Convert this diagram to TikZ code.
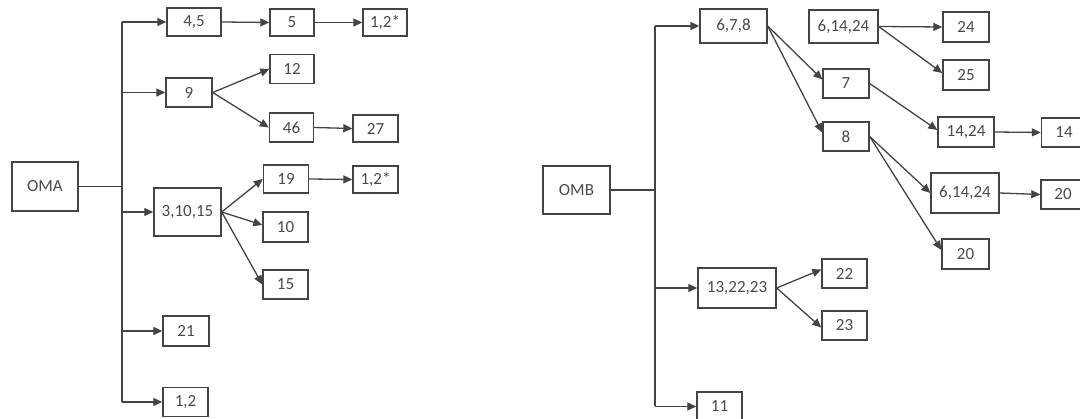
\documentclass[tikz,border=0pt]{standalone}
\usepackage{fontspec}
\setmainfont{Carlito}
\usetikzlibrary{arrows.meta,calc}
\definecolor{inkline}{HTML}{444444}
\definecolor{inktext}{HTML}{4A4A4A}
\tikzset{
  box/.style={draw=inkline, line width=1.4pt, fill=white, inner sep=0pt,
    font=\fontsize{17}{18}\selectfont, text=inktext},
  link/.style={draw=inkline, line width=1.3pt},
  arr/.style={link, -{Triangle[length=9pt,width=8pt]}}
}
\begin{document}
\begin{tikzpicture}[x=1pt,y=-1pt]
\path[use as bounding box, fill=white] (0,0) rectangle (1080,419);

% ---------- OMA tree ----------
\node[box, minimum width=66pt, minimum height=49pt] (oma) at (45,186.5) {OMA};
\node[box, minimum width=54pt, minimum height=28pt] (a45) at (194,22) {4,5};
\node[box, minimum width=44pt, minimum height=27pt] (a5) at (292,22.5) {5};
\node[box, minimum width=44pt, minimum height=27pt] (a12sA) at (385,22.5) {1,2*};
\node[box, minimum width=46pt, minimum height=29pt] (a9) at (189,92.5) {9};
\node[box, minimum width=44pt, minimum height=29pt] (a12) at (292,69) {12};
\node[box, minimum width=44pt, minimum height=29pt] (a46) at (291.5,127.5) {46};
\node[box, minimum width=45pt, minimum height=27pt] (a27) at (375.5,128.5) {27};
\node[box, minimum width=67pt, minimum height=48pt] (a31015) at (187.5,212) {3,10,15};
\node[box, minimum width=45pt, minimum height=28pt] (a19) at (286,179) {19};
\node[box, minimum width=45pt, minimum height=27pt] (a12sB) at (375.5,179.5) {1,2*};
\node[box, minimum width=45pt, minimum height=30pt] (a10) at (285.5,227) {10};
\node[box, minimum width=45pt, minimum height=29pt] (a15) at (285.5,284.5) {15};
\node[box, minimum width=46pt, minimum height=30pt] (a21) at (186,331) {21};
\node[box, minimum width=45pt, minimum height=29pt] (a12b) at (185.5,402) {1,2};

\coordinate (ta) at (122,186.5);
\coordinate (taTop) at (122,22);
\coordinate (taBot) at (122,402);
\draw[link] (oma.east) -- (ta);
\draw[link] (taTop) -- (taBot);
\draw[arr] (taTop) -- (a45.west);
\draw[arr] (122,92.5) -- (a9.west);
\draw[arr] (122,212) -- (a31015.west);
\draw[arr] (122,331) -- (a21.west);
\draw[arr] (taBot) -- (a12b.west);

\draw[arr] (a45.east) -- (a5.west);
\draw[arr] (a5.east) -- (a12sA.west);
\draw[arr] (a9.east) -- (a12.west);
\draw[arr] (a9.east) -- (a46.west);
\draw[arr] (a46.east) -- (a27.west);
\draw[arr] (a31015.east) -- (a19.west);
\draw[arr] (a31015.east) -- ($(a10.west)+(0,-2)$);
\draw[arr] (a31015.east) -- (a15.west);
\draw[arr] (a19.east) -- (a12sB.west);

% ---------- OMB tree ----------
\node[box, minimum width=67pt, minimum height=48pt] (omb) at (576.5,190) {OMB};
\node[box, minimum width=67pt, minimum height=34pt] (b678) at (733.5,26) {6,7,8};
\node[box, minimum width=69pt, minimum height=33pt] (b61424a) at (843.5,26.5) {6,14,24};
\node[box, minimum width=46pt, minimum height=30pt] (b24) at (966,27) {24};
\node[box, minimum width=46pt, minimum height=30pt] (b25) at (966,75) {25};
\node[box, minimum width=46pt, minimum height=29pt] (b7) at (846,83.5) {7};
\node[box, minimum width=46pt, minimum height=29pt] (b8) at (846,136.5) {8};
\node[box, minimum width=56pt, minimum height=30pt] (b1424) at (966,132) {14,24};
\node[box, minimum width=45pt, minimum height=29pt] (b14) at (1064,132.5) {14};
\node[box, minimum width=68pt, minimum height=40pt] (b61424b) at (965,193) {6,14,24};
\node[box, minimum width=44pt, minimum height=29pt] (b20a) at (1063,194.5) {20};
\node[box, minimum width=47pt, minimum height=30pt] (b20b) at (965.5,254) {20};
\node[box, minimum width=78pt, minimum height=40pt] (b132223) at (737,288) {13,22,23};
\node[box, minimum width=45pt, minimum height=29pt] (b22) at (844.5,273.5) {22};
\node[box, minimum width=45pt, minimum height=29pt] (b23) at (844.5,325.5) {23};
\node[box, minimum width=45pt, minimum height=29pt] (b11) at (719.5,406.5) {11};

\coordinate (tb) at (655,190);
\coordinate (tbTop) at (655,26);
\coordinate (tbBot) at (655,406.5);
\draw[link] (omb.east) -- (tb);
\draw[link] (tbTop) -- (tbBot);
\draw[arr] (tbTop) -- (b678.west);
\draw[arr] (655,288) -- (b132223.west);
\draw[arr] (tbBot) -- (b11.west);

\draw[arr] (b678.east) -- ($(b7.west)+(0,-4)$);
\draw[arr] (b678.east) -- ($(b8.west)+(0,-4)$);
\draw[arr] (b61424a.east) -- (b24.west);
\draw[arr] (b61424a.east) -- ($(b25.west)+(0,-2)$);
\draw[arr] (b7.east) -- ($(b1424.west)+(0,-2)$);
\draw[arr] (b1424.east) -- (b14.west);
\draw[arr] (b8.east) -- (b61424b.west);
\draw[arr] (b8.east) -- ($(b20b.west)+(0,-4)$);
\draw[arr] (b61424b.east) -- (b20a.west);
\draw[arr] (b132223.east) -- ($(b22.west)+(0,-4)$);
\draw[arr] (b132223.east) -- ($(b23.west)+(0,2)$);
\end{tikzpicture}
\end{document}
